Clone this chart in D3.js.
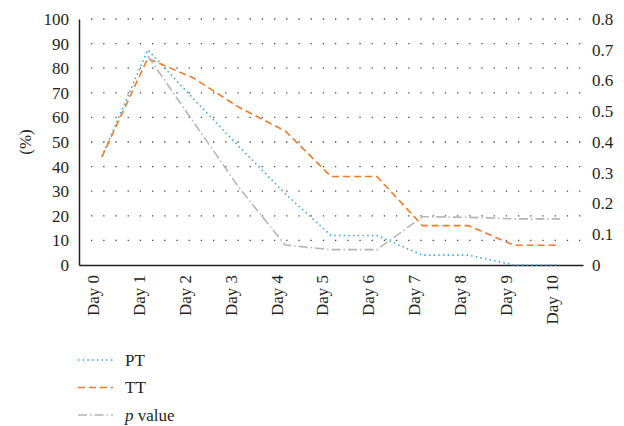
<html>
<head>
<script src="https://d3js.org/d3.v7.min.js"></script>
<style>
  body { margin: 0; background: #fff; }
  text { font-family: "Liberation Serif", "DejaVu Serif", serif; fill: #231f20; }
  .domain { stroke: #231f20; }
</style>
</head>
<body>
<div id="chart"></div>
<script>
// values
const days = ["Day 0", "Day 1", "Day 2", "Day 3", "Day 4", "Day 5", "Day 6", "Day 7", "Day 8", "Day 9", "Day 10"];
const ptValues = [44, 87.5, 67.5, 48, 29, 12, 12, 4, 4, 0, 0];
const ttValues = [44, 84, 76, 64, 54.5, 36, 36, 16, 16, 8, 8];
const pValues = [null, 0.68, 0.465, 0.25, 0.065, 0.05, 0.05, 0.157, 0.155, 0.15, 0.15];
const leftTicks = [0, 10, 20, 30, 40, 50, 60, 70, 80, 90, 100];
const rightTicks = [0, 0.1, 0.2, 0.3, 0.4, 0.5, 0.6, 0.7, 0.8];

const fontSize = "17px";

const svg = d3.select("#chart").append("svg")
  .attr("width", 624)
  .attr("height", 426);

const margin = { top: 19, left: 79, right: 41, bottom: 161 };
const width = 624 - margin.left - margin.right;
const height = 426 - margin.top - margin.bottom;

const chart = svg.append("g").attr("transform", `translate(${margin.left},${margin.top})`);

const x = d3.scaleBand().domain(days).range([0, width]);
const yLeft = d3.scaleLinear().domain([0, 100]).range([height, 0]);
const yRight = d3.scaleLinear().domain([0, 0.8]).range([height, 0]);

// dotted grid
chart.append("g")
  .selectAll("line")
  .data(leftTicks.slice(1))
  .join("line")
  .attr("x1", 12)
  .attr("x2", width + 1)
  .attr("y1", d => yLeft(d))
  .attr("y2", d => yLeft(d))
  .attr("stroke", "#444")
  .attr("stroke-width", 1.3)
  .attr("stroke-dasharray", "1.3,10.9");

// axes
const leftAxis = chart.append("g")
  .call(d3.axisLeft(yLeft).tickValues(leftTicks).tickSize(0).tickPadding(10));
leftAxis.select(".domain").attr("stroke-width", 1.5);
leftAxis.selectAll("text").style("font-size", fontSize);

const rightAxis = chart.append("g")
  .attr("transform", `translate(${width},0)`)
  .call(d3.axisRight(yRight).tickValues(rightTicks).tickSize(0).tickPadding(9).tickFormat(d3.format("")));
rightAxis.select(".domain").remove();
rightAxis.selectAll("text").style("font-size", fontSize);

const bottomAxis = chart.append("g")
  .attr("transform", `translate(0,${height})`)
  .call(d3.axisBottom(x).tickSize(0).tickSizeOuter(0));
bottomAxis.select(".domain").attr("stroke-width", 1.5);
bottomAxis.selectAll("text")
  .style("font-size", fontSize)
  .attr("text-anchor", "end")
  .attr("transform", "rotate(-90)")
  .attr("x", -10)
  .attr("y", 0)
  .attr("dy", "-0.15em");

svg.append("text")
  .attr("transform", `translate(31,${margin.top + height / 2}) rotate(-90)`)
  .attr("text-anchor", "middle")
  .style("font-size", fontSize)
  .text("(%)");

// series
const series = [
  { name: "PT", values: ptValues, scale: yLeft, color: "#3aa6dd", dash: "1.5,3.2", width: 1.6 },
  { name: "TT", values: ttValues, scale: yLeft, color: "#f07a2a", dash: "7,4", width: 1.6 },
  { name: "p value", values: pValues, scale: yRight, color: "#b4b4b4", dash: "9,3,1.5,3", width: 1.6 }
];

series.forEach(s => {
  const line = d3.line()
    .defined(d => d != null)
    .x((d, i) => x(days[i]) + x.bandwidth() / 2)
    .y(d => s.scale(d));
  chart.append("path")
    .datum(s.values)
    .attr("d", line)
    .attr("fill", "none")
    .attr("stroke", s.color)
    .attr("stroke-width", s.width)
    .attr("stroke-dasharray", s.dash);
});

// legend
const legend = svg.append("g").attr("transform", "translate(78,360)");
series.forEach((s, i) => {
  const row = legend.append("g").attr("transform", `translate(0,${i * 27.5})`);
  row.append("line")
    .attr("x1", 0).attr("x2", 35)
    .attr("stroke", s.color)
    .attr("stroke-width", s.width)
    .attr("stroke-dasharray", s.dash);
  const t = row.append("text")
    .attr("x", 47)
    .attr("dy", "0.35em")
    .style("font-size", fontSize);
  if (s.name === "p value") {
    t.append("tspan").style("font-style", "italic").text("p");
    t.append("tspan").text(" value");
  } else {
    t.text(s.name);
  }
});
</script>
</body>
</html>
